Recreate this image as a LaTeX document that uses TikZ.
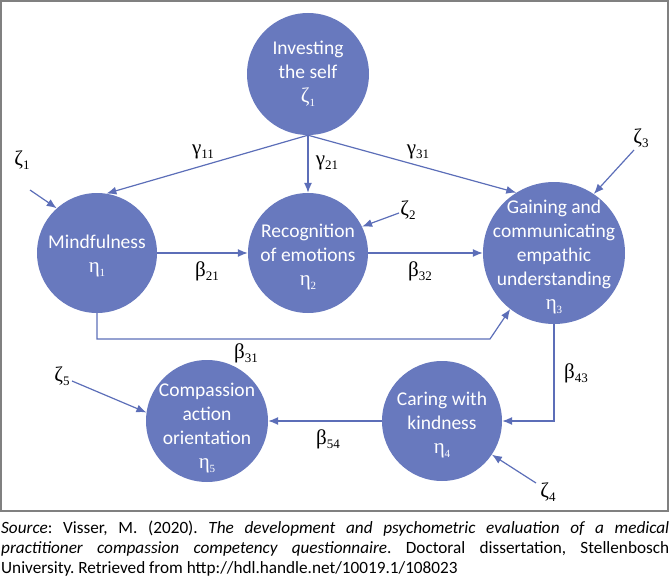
\documentclass[tikz,border=0pt]{standalone}
\usepackage{fontspec}
\setmainfont{Carlito}
\newfontfamily\grk{Liberation Serif}
\usetikzlibrary{arrows.meta}
\definecolor{nodefill}{RGB}{104,121,190}
\definecolor{edgecol}{RGB}{92,110,184}
\definecolor{framecol}{RGB}{128,128,128}
\newcommand{\gsym}[2]{{\grk\fontsize{21}{21}\selectfont #1\raisebox{-0.4ex}{\fontsize{13}{13}\selectfont #2}}}
\newcommand{\gin}[2]{{\grk\fontsize{21}{21}\selectfont #1\raisebox{-0.45ex}{\fontsize{11}{11}\selectfont #2}}}
\begin{document}
\begin{tikzpicture}[x=1pt,y=-1pt,
 latent/.style={circle, fill=nodefill, draw=none, inner sep=0pt},
 ntext/.style={text=white, align=center, inner sep=0pt, font=\fontsize{19.5}{24}\selectfont},
 path/.style={draw=edgecol, line width=1.2pt, -{Latex[length=10pt,width=8pt]}},
 lbl/.style={inner sep=0pt},
]
\useasboundingbox (0,0) rectangle (670,578);
\draw[framecol, line width=2pt] (1,1) rectangle (668,511);

% latent variables
\node[latent, minimum size=122pt] (inv) at (308,74) {};
\node[ntext] (invT) at (inv) {Investing\\the self\\\gin{ζ}{1}};
\node[latent, minimum size=120pt] (mind) at (97,253) {};
\node[ntext] (mindT) at (97,256) {Mindfulness\\\gin{η}{1}};
\node[latent, minimum size=120pt] (rec) at (308,253) {};
\node[ntext] (recT) at (308,257) {Recognition\\of emotions\\\gin{η}{2}};
\node[latent, minimum size=142pt] (gain) at (554,253) {};
\node[ntext] (gainT) at (554,257) {Gaining and\\communicating\\empathic\\understanding\\\gin{η}{3}};
\node[latent, minimum size=122pt] (comp) at (207,421) {};
\node[ntext] (compT) at (207,428) {Compassion\\action\\orientation\\\gin{η}{5}};
\node[latent, minimum size=120pt] (care) at (442,421) {};
\node[ntext] (careT) at (442,425) {Caring with\\kindness\\\gin{η}{4}};

% disturbance labels
\node[lbl] (z1) at (22,160) {\gsym{ζ}{1}};
\node[lbl] (z2) at (408,210) {\gsym{ζ}{2}};
\node[lbl] (z3) at (641,138) {\gsym{ζ}{3}};
\node[lbl] (z4) at (548,492) {\gsym{ζ}{4}};
\node[lbl] (z5) at (62,376) {\gsym{ζ}{5}};
\coordinate (z1s) at (30,190);
\coordinate (z2s) at (399,213);
\coordinate (z3s) at (634,150);
\coordinate (z4s) at (536,483);
\coordinate (z5s) at (72,381);

% paths
\draw[path] (inv.south) -- (mind.81);
\draw[path] (inv.south) -- (rec.north);
\draw[path] (inv.south) -- (gain.122);
\draw[path] (mind.east) -- (rec.west);
\draw[path] (rec.east) -- (gain.west);
\coordinate (b31a) at (97,339);
\coordinate (b31b) at (490,339);
\draw[path] (mind.south) -- (b31a) -- (b31b) -- (gain.232);
\draw[path] (gain.south) |- (care.east);
\draw[path] (care.west) -- (comp.east);

\draw[path] (z1s) -- (mind.132);
\draw[path] (z2s) -- (rec.26);
\draw[path] (z3s) -- (gain.56);
\draw[path] (z4s) -- (care.-34);
\draw[path] (z5s) -- (comp.172);

% coefficient labels
\node[lbl] (g11) at (203,152) {\gsym{γ}{11}};
\node[lbl] (g21) at (327,163) {\gsym{γ}{21}};
\node[lbl] (g31) at (418,152) {\gsym{γ}{31}};
\node[lbl] (b21) at (207,271) {\gsym{β}{21}};
\node[lbl] (b32) at (420,271) {\gsym{β}{32}};
\node[lbl] (b31) at (246,353) {\gsym{β}{31}};
\node[lbl] (b43) at (576,373) {\gsym{β}{43}};
\node[lbl] (b54) at (328,439) {\gsym{β}{54}};

% caption
\node[anchor=north west, inner sep=0pt, text width=668pt, align=justify,
  font=\fontsize{17.2}{20}\selectfont] (cap) at (1,521)
 {\frenchspacing\hyphenpenalty=10000 \textit{Source}: Visser, M. (2020). \textit{The development and psychometric evaluation of a medical\linebreak practitioner compassion competency questionnaire}. Doctoral dissertation, Stellenbosch\linebreak University. Retrieved from http://hdl.handle.net/10019.1/108023};
\end{tikzpicture}
\end{document}
